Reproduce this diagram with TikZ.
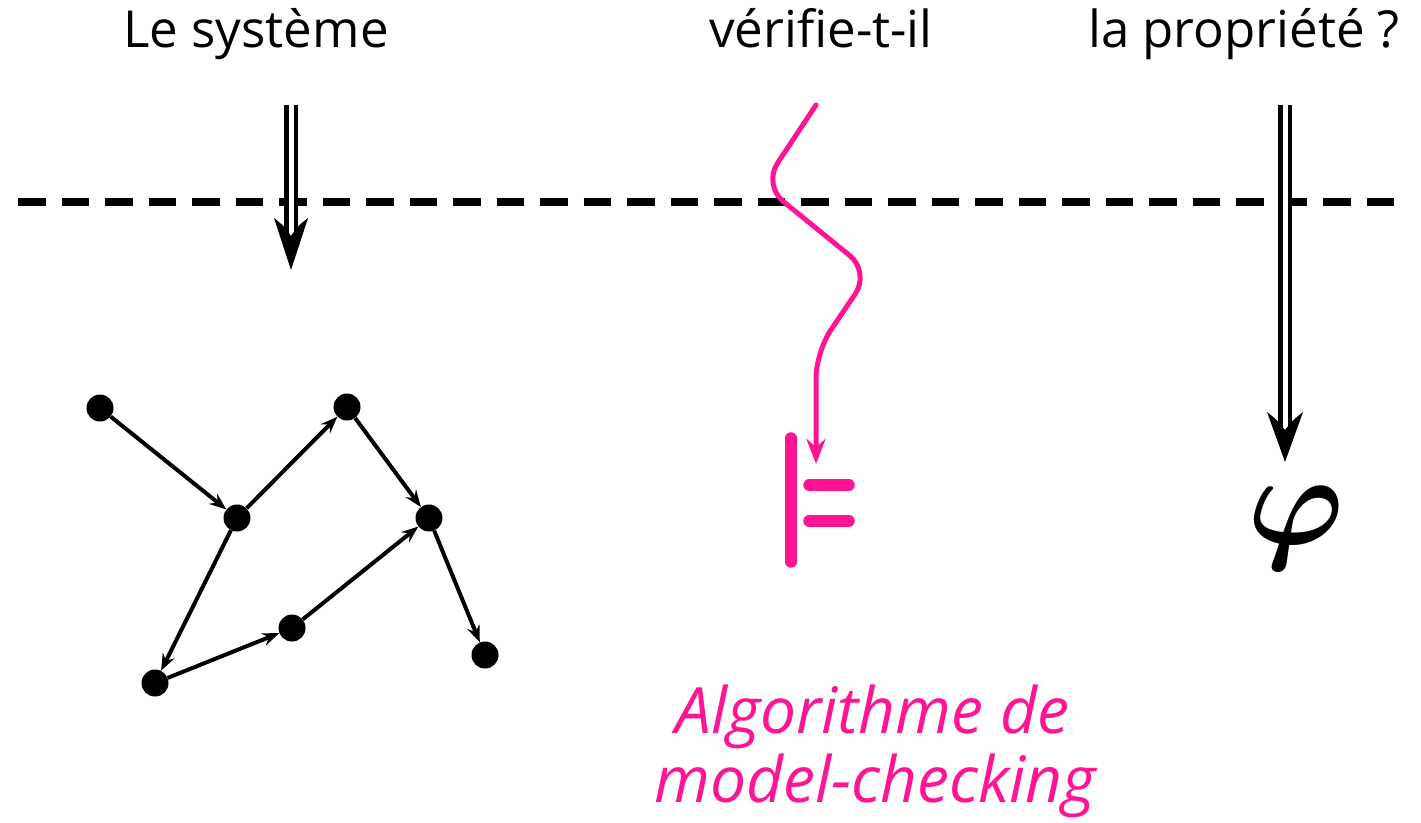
\documentclass[tikz,border=0pt]{standalone}
\usepackage{fontspec}
\setmainfont{Open Sans}
\usepackage{graphicx}
\usetikzlibrary{arrows.meta}
\definecolor{mcpink}{RGB}{255,20,147}
\begin{document}
\begin{tikzpicture}[x=1pt,y=-1pt,
  vtx/.style={circle,fill=black,inner sep=0pt,minimum size=27pt},
  edge/.style={line width=4pt,-{Stealth[length=17pt,width=13pt,inset=6pt]}},
  dbl/.style={line width=4.5pt,double=white,double distance=5pt},
  toplabel/.style={anchor=base,inner sep=0pt,font=\fontsize{51}{58}\selectfont},
  pinklabel/.style={anchor=base,inner sep=0pt,text=mcpink,font=\fontsize{64}{70}\selectfont\itshape},
  pinkline/.style={draw=mcpink,line width=5pt,line cap=round,line join=round},
  bar/.style={draw=mcpink,line width=11.5pt,line cap=round}
]
\useasboundingbox (0,0) rectangle (1421,822);

% titles
\node[toplabel] (sys) at (256,47) {Le système};
\node[toplabel] (verif) at (821,47) {vérifie-t-il};
\node[toplabel] (prop) at (1244,47) {la propriété ?};

% dashed separator
\coordinate (dl) at (18,202);
\coordinate (dr) at (1395,202);
\draw[line width=8pt,dash pattern=on 27.8pt off 15.7pt] (dl) -- (dr);

% left double arrow
\coordinate (s1) at (291,105);
\coordinate (s1b) at (291,238);
\coordinate (s2) at (291,270);
\draw[dbl] (s1) -- (s1b);
\fill (s2) -- (274,218) .. controls (284,226) .. (291,236) .. controls (298,226) .. (308,218) -- cycle;

% right double arrow
\coordinate (p1) at (1285,105);
\coordinate (p1b) at (1285,430);
\coordinate (p2) at (1285,462);
\draw[dbl] (p1) -- (p1b);
\fill (p2) -- (1267,412) .. controls (1277,420) .. (1285,430) .. controls (1293,420) .. (1303,412) -- cycle;

% phi
\node[inner sep=0pt] (phi) at (1296,528) {\scalebox{13}{\boldmath$\varphi$}};

% pink arrow
\coordinate (v1) at (816,105);
\coordinate (v2) at (816,464);
\draw[pinkline,rounded corners=26pt,-{Stealth[length=25pt,width=19pt,inset=8pt]}]
  (v1) -- (763,185) -- (870,272) -- (816,352) -- (v2);

% models symbol
\coordinate (m1) at (791,438);
\coordinate (m2) at (791,562);
\coordinate (h1a) at (809,485);
\coordinate (h1b) at (849,485);
\coordinate (h2a) at (809,521);
\coordinate (h2b) at (849,521);
\draw[bar] (m1) -- (m2);
\draw[bar] (h1a) -- (h1b);
\draw[bar] (h2a) -- (h2b);

% pink caption
\node[pinklabel] (alg1) at (872,733) {Algorithme de};
\node[pinklabel] (alg2) at (875,802) {model-checking};

% graph
\node[vtx] (A) at (100,408) {};
\node[vtx] (B) at (237,518) {};
\node[vtx] (C) at (347,407) {};
\node[vtx] (D) at (429,518) {};
\node[vtx] (E) at (292,628) {};
\node[vtx] (F) at (155,683) {};
\node[vtx] (G) at (485,655) {};
\draw[edge] (A) -- (B);
\draw[edge] (B) -- (C);
\draw[edge] (C) -- (D);
\draw[edge] (B) -- (F);
\draw[edge] (F) -- (E);
\draw[edge] (E) -- (D);
\draw[edge] (D) -- (G);
\end{tikzpicture}
\end{document}
